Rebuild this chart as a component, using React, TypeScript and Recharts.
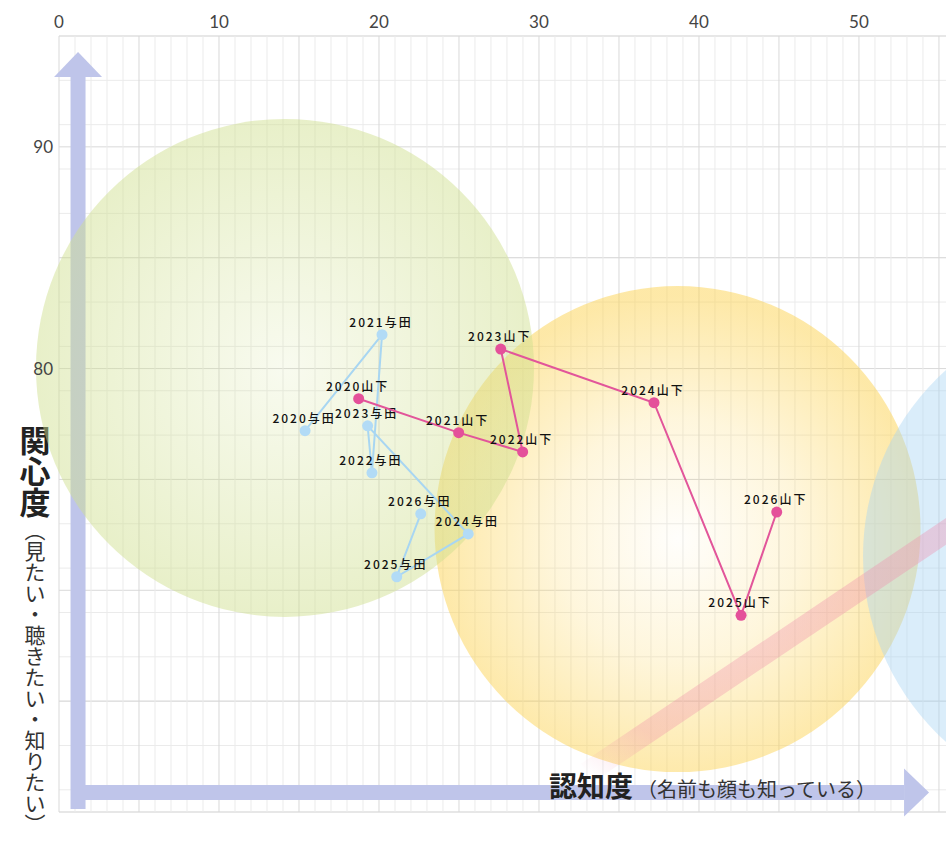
import React from "react";
import {
  ScatterChart,
  Scatter,
  XAxis,
  YAxis,
  CartesianGrid,
  ReferenceDot,
  ReferenceLine,
} from "recharts";

// 年ごとの位置（認知度 = x, 関心度 = y）
const YEARS = ["2020", "2021", "2022", "2023", "2024", "2025", "2026"];
const YAMASHITA_X = [18.73, 24.98, 28.98, 27.61, 37.19, 42.63, 44.86];
const YAMASHITA_Y = [78.64, 77.11, 76.24, 80.88, 78.46, 68.87, 73.53];
const YODA_X = [15.38, 20.19, 19.56, 19.29, 25.58, 21.11, 22.61];
const YODA_Y = [77.2, 81.53, 75.3, 77.42, 72.54, 70.61, 73.45];

const X_TICKS = [0, 10, 20, 30, 40, 50];
const Y_TICKS = [80, 90];
const X_DOMAIN: [number, number] = [0, 55.44];
const Y_DOMAIN: [number, number] = [60, 95];

// grid every 1, darker every 5
const MINOR_X = Array.from({ length: 56 }, (_, i) => i);
const MINOR_Y = Array.from({ length: 36 }, (_, i) => 60 + i);
const MAJOR_Y = [60, 65, 70, 75, 80, 85, 90, 95];

const yamashita = YEARS.map((yr, i) => ({ x: YAMASHITA_X[i], y: YAMASHITA_Y[i], label: yr + "山下" }));
const yoda = YEARS.map((yr, i) => ({ x: YODA_X[i], y: YODA_Y[i], label: yr + "与田" }));

const ARROW = "#bfc5ea";
const JP = "'Noto Sans CJK JP', sans-serif";

const dotShape = (color: string) => (p: any) => (
  <g>
    <circle cx={p.cx} cy={p.cy} r={5.5} fill={color} />
    <text
      x={p.cx - 1}
      y={p.cy - 8}
      textAnchor="middle"
      fontSize={12}
      fontWeight={500}
      letterSpacing={2}
      fill="#111"
      fontFamily={JP}
    >
      {p.payload.label}
    </text>
  </g>
);

function arrowPath(p: any) {
  const { x1, y1, x2, y2 } = p;
  const dx = x2 - x1;
  const dy = y2 - y1;
  const len = Math.sqrt(dx * dx + dy * dy) || 1;
  const ux = dx / len;
  const uy = dy / len;
  const nx = -uy;
  const ny = ux;
  const head = 25;
  const hw = 24;
  const sw = 7.5;
  const bx = x2 - ux * head;
  const by = y2 - uy * head;
  const shaft = `${x1 + nx * sw},${y1 + ny * sw} ${bx + nx * sw},${by + ny * sw} ${bx - nx * sw},${by - ny * sw} ${x1 - nx * sw},${y1 - ny * sw}`;
  const tip = `${bx + nx * hw},${by + ny * hw} ${x2},${y2} ${bx - nx * hw},${by - ny * hw}`;
  return { shaft, tip };
}

const xArrowShape = (p: any) => {
  const { shaft, tip } = arrowPath(p);
  return (
    <g>
      <polygon points={shaft} fill={ARROW} />
      <polygon points={tip} fill={ARROW} />
      <text x={p.x2 - 380} y={p.y1 + 4.5} fontSize={28} fontWeight={700} fill="#222" fontFamily={JP}>
        認知度
      </text>
      <text x={p.x2 - 292} y={p.y1 + 4.5} fontSize={20} fill="#333" fontFamily={JP}>
        （名前も顔も知っている）
      </text>
    </g>
  );
};

const yArrowShape = (p: any) => {
  const { shaft, tip } = arrowPath(p);
  const vert = { writingMode: "vertical-rl" } as any;
  return (
    <g>
      <polygon points={shaft} fill={ARROW} />
      <polygon points={tip} fill={ARROW} />
      <text x={p.x1 - 43} y={p.y2 + 373} fontSize={31} fontWeight={700} fill="#222" fontFamily={JP} style={vert}>
        関心度
      </text>
      <text x={p.x1 - 43} y={p.y2 + 468} fontSize={21} fill="#333" fontFamily={JP} style={vert}>
        （見たい・聴きたい・知りたい）
      </text>
    </g>
  );
};

export default function App() {
  return (
    <div style={{ width: 946, height: 845, background: "#fff" }}>
      <style>{"body{margin:0}"}</style>
      <ScatterChart width={946} height={845} margin={{ top: 0, right: 0, bottom: 33, left: 0 }}>
        <defs>
          <radialGradient id="gGreen" cx="50%" cy="50%" r="50%">
            <stop offset="0%" stopColor="#cfdf8e" stopOpacity={0.14} />
            <stop offset="60%" stopColor="#cfdf8e" stopOpacity={0.34} />
            <stop offset="100%" stopColor="#cfdf8e" stopOpacity={0.48} />
          </radialGradient>
          <radialGradient id="gYellow" cx="50%" cy="52%" r="50%">
            <stop offset="0%" stopColor="#fcd250" stopOpacity={0.02} />
            <stop offset="50%" stopColor="#fcd250" stopOpacity={0.2} />
            <stop offset="100%" stopColor="#fcd250" stopOpacity={0.5} />
          </radialGradient>
          <linearGradient id="gBand" x1="0" y1="1" x2="1" y2="0">
            <stop offset="0%" stopColor="#f08aa8" stopOpacity={0} />
            <stop offset="15%" stopColor="#f08aa8" stopOpacity={0.32} />
            <stop offset="100%" stopColor="#ee8fb0" stopOpacity={0.38} />
          </linearGradient>
        </defs>

        <YAxis yAxisId="gmin" type="number" domain={Y_DOMAIN} ticks={MINOR_Y} allowDataOverflow hide />
        <YAxis yAxisId="gmaj" type="number" domain={Y_DOMAIN} ticks={MAJOR_Y} allowDataOverflow hide />
        <CartesianGrid yAxisId="gmin" vertical={false} stroke="#ebebeb" />
        <CartesianGrid yAxisId="gmaj" vertical={false} stroke="#d9d9d9" />
        {MINOR_X.map((v) => (
          <ReferenceLine
            key={v}
            x={v}
            stroke={v % 5 === 0 ? "#d9d9d9" : "#ebebeb"}
            strokeWidth={1}
            zIndex={-90}
          />
        ))}

        <XAxis
          type="number"
          dataKey="x"
          orientation="top"
          domain={X_DOMAIN}
          ticks={X_TICKS}
          allowDataOverflow
          height={36}
          axisLine={false}
          tickLine={false}
          tickSize={0}
          tickMargin={8}
          tick={{ fontSize: 17, fill: "#444", fontFamily: "Lato, sans-serif" }}
        />
        <YAxis
          type="number"
          dataKey="y"
          domain={Y_DOMAIN}
          ticks={Y_TICKS}
          allowDataOverflow
          width={59}
          axisLine={false}
          tickLine={false}
          tickSize={0}
          tickMargin={6}
          tick={{ fontSize: 17, fill: "#444", fontFamily: "Lato, sans-serif" }}
        />

        <ReferenceLine
          segment={[{ x: 1.19, y: 60.13 }, { x: 1.19, y: 94.28 }]}
          shape={yArrowShape}
          zIndex={-80}
        />
        <ReferenceLine
          segment={[{ x: 0.75, y: 60.88 }, { x: 54.38, y: 60.88 }]}
          shape={xArrowShape}
          zIndex={-80}
        />

        <ReferenceDot x={38.66} y={72.76} r={243} fill="url(#gYellow)" stroke="none" ifOverflow="visible" zIndex={-60} />
        <ReferenceDot x={14.125} y={80.03} r={249} fill="url(#gGreen)" stroke="none" ifOverflow="visible" zIndex={-60} />
        <ReferenceDot x={65.88} y={71.55} r={250} fill="#a8d4f4" fillOpacity={0.42} stroke="none" ifOverflow="visible" zIndex={-60} />

        <ReferenceLine
          segment={[{ x: 33.0, y: 61.76 }, { x: 58, y: 73.9 }]}
          stroke="url(#gBand)"
          strokeWidth={22}
          ifOverflow="hidden"
          zIndex={-40}
        />

        <Scatter
          name="与田"
          data={yoda}
          fill="#a8d6f2"
          line={{ stroke: "#a8d6f2", strokeWidth: 2 }}
          shape={dotShape("#b2dbf6")}
          isAnimationActive={false}
        />
        <Scatter
          name="山下"
          data={yamashita}
          fill="#e2559a"
          line={{ stroke: "#e2559a", strokeWidth: 2 }}
          shape={dotShape("#e4509a")}
          isAnimationActive={false}
        />
      </ScatterChart>
    </div>
  );
}
